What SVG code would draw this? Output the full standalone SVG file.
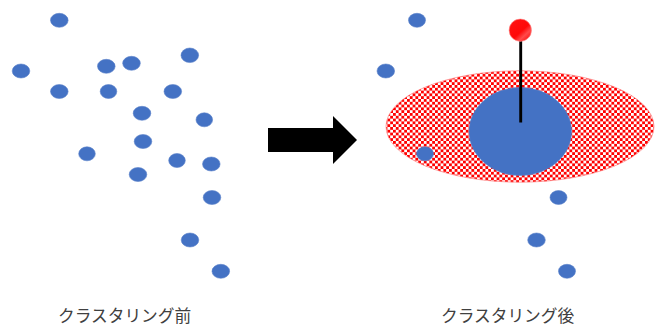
<svg xmlns="http://www.w3.org/2000/svg" width="663" height="327" viewBox="0 0 663 327">
<style>
.d{fill:#4472c4;stroke:#5b82c9;stroke-width:.6}
.t{font-family:"Noto Sans CJK JP","Noto Sans CJK SC",sans-serif;font-size:16.7px;fill:#404040}
</style>
<defs>
<pattern id="chk" width="5.6" height="5.6" patternUnits="userSpaceOnUse" x="1" y="1">
<rect width="5.6" height="5.6" fill="#fff"/>
<rect width="2.8" height="2.8" fill="#f00"/>
<rect x="2.800" y="2.800" width="2.800" height="2.800" fill="#f00"/>
</pattern>
<linearGradient id="ball" x1=".2" y1=".15" x2=".85" y2=".85">
<stop offset="0" stop-color="#ff1010"/>
<stop offset=".55" stop-color="#ff0808"/>
<stop offset=".8" stop-color="#ff4a4a"/>
<stop offset="1" stop-color="#ff2020"/>
</linearGradient>
</defs>
<g id="before">
<ellipse class="d" cx="59.300" cy="20.300" rx="8.800" ry="7"/>
<ellipse class="d" cx="21" cy="71" rx="8.800" ry="7"/>
<ellipse class="d" cx="106.300" cy="66.300" rx="8.800" ry="7"/>
<ellipse class="d" cx="131.500" cy="63.300" rx="8.800" ry="7"/>
<ellipse class="d" cx="189.800" cy="55.300" rx="8.800" ry="7.300"/>
<ellipse class="d" cx="59.300" cy="91.500" rx="8.800" ry="7"/>
<ellipse class="d" cx="108.500" cy="91.500" rx="8.300" ry="7"/>
<ellipse class="d" cx="172.800" cy="91.500" rx="8.800" ry="7"/>
<ellipse class="d" cx="142" cy="113.300" rx="8.800" ry="7"/>
<ellipse class="d" cx="204.300" cy="119.800" rx="8.300" ry="7"/>
<ellipse class="d" cx="143" cy="141.500" rx="8.800" ry="7"/>
<ellipse class="d" cx="87" cy="153.800" rx="8.300" ry="7"/>
<ellipse class="d" cx="177" cy="160.500" rx="8.300" ry="7"/>
<ellipse class="d" cx="211.300" cy="164" rx="8.800" ry="7"/>
<ellipse class="d" cx="138" cy="174.500" rx="8.800" ry="7"/>
<ellipse class="d" cx="212" cy="197.500" rx="8.800" ry="7"/>
<ellipse class="d" cx="190" cy="240" rx="8.800" ry="7"/>
<ellipse class="d" cx="220.800" cy="271.300" rx="8.800" ry="7"/>
</g>
<g id="arrow"><polygon points="268,128 333,128 333,116 357,140 333,164 333,152 268,152" fill="#000"/></g>
<g id="after">
<ellipse cx="520" cy="126.500" rx="134" ry="55.700" fill="url(#chk)" stroke="#ff8080" stroke-width=".7"/>
<ellipse class="d" cx="520.300" cy="131.500" rx="51.300" ry="44"/>
<ellipse class="d" cx="417" cy="20.300" rx="8.500" ry="7"/>
<ellipse class="d" cx="385.800" cy="71" rx="8.800" ry="7"/>
<ellipse class="d" cx="425" cy="153.800" rx="8.500" ry="7"/>
<ellipse class="d" cx="558.500" cy="197.500" rx="8.500" ry="7"/>
<ellipse class="d" cx="536.500" cy="240" rx="8.800" ry="7"/>
<ellipse class="d" cx="567" cy="271.300" rx="8.500" ry="7"/>
</g>
<g id="pin">
<line x1="520.700" y1="40" x2="520.700" y2="122.500" stroke="#000" stroke-width="2.900"/>
<circle cx="520.300" cy="30.200" r="11.200" fill="url(#ball)" stroke="#ff9090" stroke-width=".6"/>
</g>
<g id="labels">
<text class="t" x="58" y="322">クラスタリング前</text>
<text class="t" x="441" y="322">クラスタリング後</text>
</g>
</svg>
